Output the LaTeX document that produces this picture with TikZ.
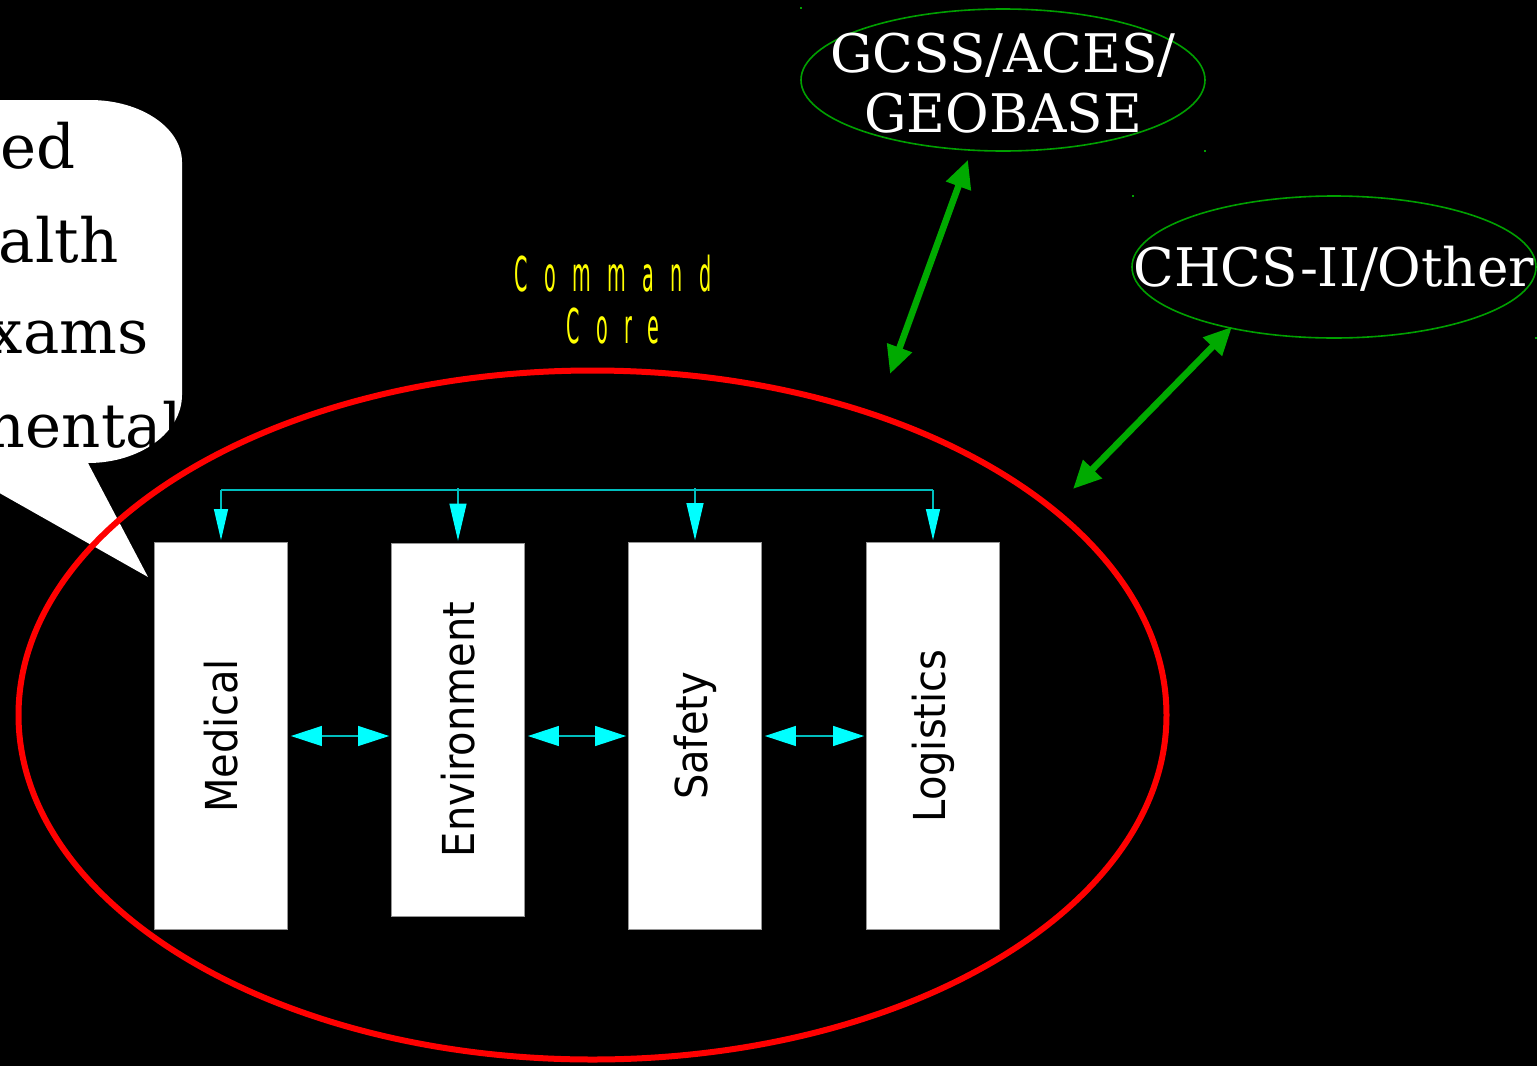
\documentclass[tikz,border=0pt]{standalone}
\usepackage{fontspec}
\usepackage{graphicx}
\setmainfont{DejaVu Serif}
\newfontfamily\boxfont{DejaVu Sans}
\newfontfamily\corefont{DejaVu Sans}[LetterSpace=85.0]
\usetikzlibrary{arrows.meta,shapes.geometric,calc}
\definecolor{gline}{RGB}{0,160,0}
\definecolor{garr}{RGB}{0,170,0}
\definecolor{cyanline}{RGB}{0,190,190}
\definecolor{cyanhead}{RGB}{0,255,255}
\definecolor{boxedge}{RGB}{150,150,150}
\begin{document}
\begin{tikzpicture}[x=0.5pt,y=-0.5pt,
  calltext/.style={anchor=base east,inner sep=0pt,text=black,font=\fontsize{30.5pt}{36pt}\selectfont},
  coreell/.style={ellipse,draw=red,line width=3pt,minimum width=574pt,minimum height=344.5pt,inner sep=0pt},
  sysbox/.style={rectangle,fill=white,draw=boxedge,line width=0.4pt,minimum width=66.5pt,minimum height=193.5pt,inner sep=0pt,font=\boxfont\fontsize{20pt}{24pt}\selectfont,text=black},
  sysell/.style={ellipse,draw=gline,line width=0.8pt,minimum width=202pt,minimum height=71pt,inner sep=0pt},
  systext/.style={text=white,align=center,inner sep=0pt,font=\fontsize{26.6pt}{30pt}\selectfont},
  busline/.style={draw=cyanline,line width=0.6pt},
  downarr/.style={busline,-{Triangle[length=15.5pt,width=7pt,fill=cyanhead,color=cyanhead]},shorten >=1pt},
  downarrl/.style={busline,-{Triangle[length=18.5pt,width=8.5pt,fill=cyanhead,color=cyanhead]},shorten >=1pt},
  linkarr/.style={busline,{Triangle[length=15.5pt,width=10pt,fill=cyanhead,color=cyanhead]}-{Triangle[length=15.5pt,width=10pt,fill=cyanhead,color=cyanhead]},shorten <=1.5pt,shorten >=1pt},
  garrow/.style={draw=garr,line width=3.3pt,{Triangle[length=14pt,width=12.5pt]}-{Triangle[length=14pt,width=12.5pt]}},
  gdot/.style={fill=gline}
]
\useasboundingbox (0,0) rectangle (1537,1066);
\fill[black] (0,0) rectangle (1537,1066);

% callout
\fill[white] (-20,100) -- (90,100) arc[start angle=-90,end angle=0,x radius=92,y radius=62]
  -- (182,395) arc[start angle=0,end angle=90,x radius=94,y radius=68]
  -- (148,577) -- (-20,482) -- cycle;
\node[calltext] (c1) at (76,168) {ed};
\node[calltext] (c2) at (119,262) {alth};
\node[calltext] (c3) at (149,353) {xams};
\node[calltext] (c4) at (182,447) {mental};

% command core
\node[coreell] (core) at (592.5,715) {};
\node[text={rgb,255:red,255;green,255;blue,0},align=center,inner sep=0pt,
  font=\corefont\fontsize{24pt}{26pt}\selectfont] (cc) at (613,300)
  {\scalebox{0.4}[1]{Command}\\\scalebox{0.4}[1]{Core}};

% boxes
\node[sysbox] (med) at (221,736) {\rotatebox{90}{\scalebox{1}[1.1]{Medical}}};
\node[sysbox,minimum height=186.5pt] (env) at (458,729.5) {\rotatebox{90}{\scalebox{1}[1.1]{Environment}}};
\node[sysbox] (saf) at (695,736) {\rotatebox{90}{\scalebox{1}[1.1]{Safety}}};
\node[sysbox] (log) at (933,736) {\rotatebox{90}{\scalebox{1}[1.1]{Logistics}}};

% bus
\coordinate (bus) at (0,490);
\draw[busline] (med.north |- bus) -- (log.north |- bus);
\draw[downarr] (med.north |- bus) -- (med.north);
\draw[downarrl] ($(env.north |- bus)+(0,-2)$) -- (env.north);
\draw[downarrl] ($(saf.north |- bus)+(0,-2)$) -- (saf.north);
\draw[downarr] (log.north |- bus) -- (log.north);

% links
\draw[linkarr] (med.east) -- (med.east -| env.west);
\draw[linkarr] (saf.west -| env.east) -- (saf.west);
\draw[linkarr] (saf.east) -- (saf.east -| log.west);

% external systems
\node[sysell] (gcss) at (1003,80) {};
\node[systext] (gcsst) at ($(gcss.center)+(0,3)$) {GCSS/ACES/\\GEOBASE};
\node[sysell] (chcs) at (1334,267) {};
\node[systext] (chcst) at ($(chcs.center)+(0,2)$) {CHCS-II/Other};
\fill[gdot] (800,7) rectangle (802,9);
\fill[gdot] (1204,150) rectangle (1206,152);
\fill[gdot] (1132,195) rectangle (1134,197);
\fill[gdot] (1535,337) rectangle (1537,339);

\coordinate (ga1) at ($(gcss.south)+(-35,8)$);
\coordinate (ga2) at (890,374);
\coordinate (gb1) at ($(chcs.south)+(-102,-12)$);
\coordinate (gb2) at (1073,489);
\draw[garrow] (ga1) -- (ga2);
\draw[garrow] (gb1) -- (gb2);
\end{tikzpicture}
\end{document}
